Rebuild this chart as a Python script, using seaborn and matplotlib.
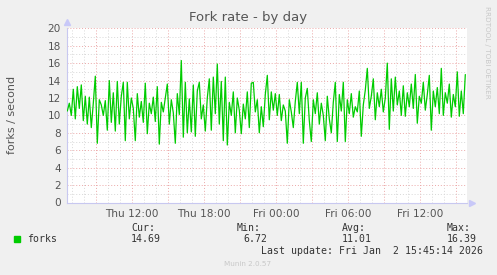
import numpy as np
import pandas as pd
import matplotlib
matplotlib.use("Agg")
import matplotlib.pyplot as plt
import matplotlib.dates as mdates
import seaborn as sns

# ---------------- data ----------------
title = "Fork rate - by day"
y_label = "forks / second"
series_name = "forks"
start_time = "2026-01-01 06:35"
step = "10min"
forks = [
    10.5, 11.4, 10.0, 13.0, 9.6, 13.3, 10.8, 13.5, 9.4, 12.2,
    9.0, 12.1, 8.6, 11.4, 14.5, 6.8, 11.8, 11.2, 10.0, 11.7,
    8.3, 14.0, 9.2, 12.6, 8.2, 13.9, 9.0, 12.2, 13.8, 7.1,
    13.8, 9.6, 12.0, 10.8, 7.1, 12.5, 9.8, 11.6, 9.2, 13.7,
    7.9, 11.4, 10.2, 12.1, 9.3, 13.3, 6.7, 11.5, 10.4, 12.0,
    13.6, 9.0, 11.8, 10.3, 6.8, 12.5, 10.1, 16.3, 7.5, 13.8,
    8.0, 11.9, 8.1, 13.5, 7.6, 12.8, 13.8, 9.6, 11.2, 8.2,
    12.0, 14.2, 8.3, 14.4, 10.2, 15.9, 9.0, 13.9, 7.1, 14.4,
    6.6, 11.5, 10.0, 12.7, 8.0, 12.0, 10.6, 7.9, 11.3, 9.6,
    12.7, 8.6, 13.7, 13.8, 10.4, 11.8, 8.0, 11.0, 8.7, 12.4,
    14.6, 9.5, 12.7, 10.6, 12.5, 10.0, 12.4, 9.4, 11.2, 10.5,
    6.8, 11.8, 10.4, 8.6, 11.6, 13.8, 10.2, 13.8, 6.8, 12.0,
    13.1, 9.4, 7.0, 11.8, 10.2, 12.6, 9.0, 11.4, 10.0, 7.1,
    12.2, 9.6, 8.0, 11.5, 13.8, 7.0, 12.4, 10.5, 13.8, 7.0,
    11.8, 10.2, 12.5, 9.8, 11.0, 10.4, 12.8, 7.6, 11.2, 12.9,
    15.4, 10.8, 12.2, 14.2, 9.5, 12.6, 11.0, 13.0, 10.4, 12.0,
    16.0, 8.4, 14.2, 10.5, 14.4, 11.2, 12.8, 10.0, 13.4, 9.9,
    12.6, 11.0, 13.6, 10.8, 14.7, 9.1, 12.2, 11.4, 13.8, 10.6,
    12.4, 14.6, 8.3, 12.8, 11.0, 13.2, 10.2, 15.4, 10.0, 12.6,
    11.4, 13.6, 9.8, 12.4, 11.0, 15.0, 9.9, 12.8, 10.2, 14.69,
]
x_start = "2026-01-01 06:31"
x_end = "2026-01-02 15:51"
legend_labels = ["Cur:", "Min:", "Avg:", "Max:"]
legend_values = ["14.69", "6.72", "11.01", "16.39"]
last_update = "Last update: Fri Jan  2 15:45:14 2026"
footer = "Munin 2.0.57"
side_text = "RRDTOOL / TOBI OETIKER"

times = pd.date_range(start_time, periods=len(forks), freq=step)
df = pd.DataFrame({"time": times, "forks": forks})

# ---------------- style ----------------
sns.set_theme(style="white")
plt.rcParams["font.family"] = ["DejaVu Sans"]
W, H = 497, 275
fig = plt.figure(figsize=(W / 100, H / 100), dpi=100, facecolor="#F0F0F0")
L, R, T, B = 66.5, 466.5, 28.3, 202.5
ax = fig.add_axes([L / W, 1 - B / H, (R - L) / W, (B - T) / H])
ax.set_facecolor("white")

sns.lineplot(data=df, x="time", y="forks", ax=ax, color="#00CC00",
             linewidth=0.9, zorder=3)

ax.set_xlim(pd.Timestamp(x_start), pd.Timestamp(x_end))
ax.set_ylim(0, 20)

ax.xaxis.set_major_locator(mdates.HourLocator(byhour=range(0, 24, 3)))
ax.xaxis.set_minor_locator(mdates.HourLocator())


def fmt(x, pos=None):
    d = mdates.num2date(x)
    if d.hour % 6 == 0:
        return d.strftime("%a %H:%M")
    return ""


ax.xaxis.set_major_formatter(plt.FuncFormatter(fmt))
ax.set_yticks(range(0, 21, 2))
ax.set_yticks(range(1, 20, 2), minor=True)

ax.grid(which="minor", color="#d8d8d8", linestyle=(0, (1, 2)), linewidth=0.7)
ax.grid(which="major", color="#eba8a8", linestyle=(0, (1, 2)), linewidth=0.7)
ax.set_axisbelow(True)

for s in ["top", "right"]:
    ax.spines[s].set_visible(False)
for s in ["left", "bottom"]:
    ax.spines[s].set_color("#c8c8f0")
    ax.spines[s].set_linewidth(0.8)

ax.tick_params(axis="both", which="major", length=2, width=0.6,
               color="#e08080", labelsize=7.6, labelcolor="#555555", pad=2)
ax.tick_params(axis="both", which="minor", length=0)
ax.tick_params(axis="x", pad=3)
ax.set_xlabel("")
ax.set_ylabel(y_label, fontsize=8, color="#555555", labelpad=22)

# arrows
ax.plot([0], [1.035], marker="^", color="#c8c8f8", markersize=4,
        transform=ax.transAxes, clip_on=False)
ax.plot([1.013], [0], marker=">", color="#c8c8f8", markersize=4,
        transform=ax.transAxes, clip_on=False)

# title
fig.text(248 / W, 1 - 18 / H, title, ha="center", va="center",
         fontsize=9.5, color="#555555")
fig.text(487 / W, 1 - 6 / H, side_text, rotation=270, ha="center", va="top",
         fontsize=5.2, color="#c8c8c8")

# legend
mono = "DejaVu Sans Mono"
fs = 7.1
fig.patches.append(plt.Rectangle((14 / W, 1 - 242 / H), 6 / W, 6 / H,
                                 transform=fig.transFigure, color="#00CC00"))
fig.text(27 / W, 1 - 239 / H, series_name, family=mono, fontsize=fs,
         color="#333333", va="center")
lab_x = [131, 237, 342, 447]
val_x = [131, 243, 342, 447]
for lx, vx, lab, val in zip(lab_x, val_x, legend_labels, legend_values):
    fig.text(lx / W, 1 - 228 / H, lab, family=mono, fontsize=fs,
             color="#333333", va="center")
    fig.text(vx / W, 1 - 239 / H, val, family=mono, fontsize=fs,
             color="#333333", va="center")
fig.text(261 / W, 1 - 251 / H, last_update, family=mono, fontsize=fs,
         color="#333333", va="center")
fig.text(248 / W, 1 - 264 / H, footer, ha="center", va="center",
         fontsize=5.2, color="#c8c8c8")

fig.savefig("out.png", dpi=100, facecolor=fig.get_facecolor())
